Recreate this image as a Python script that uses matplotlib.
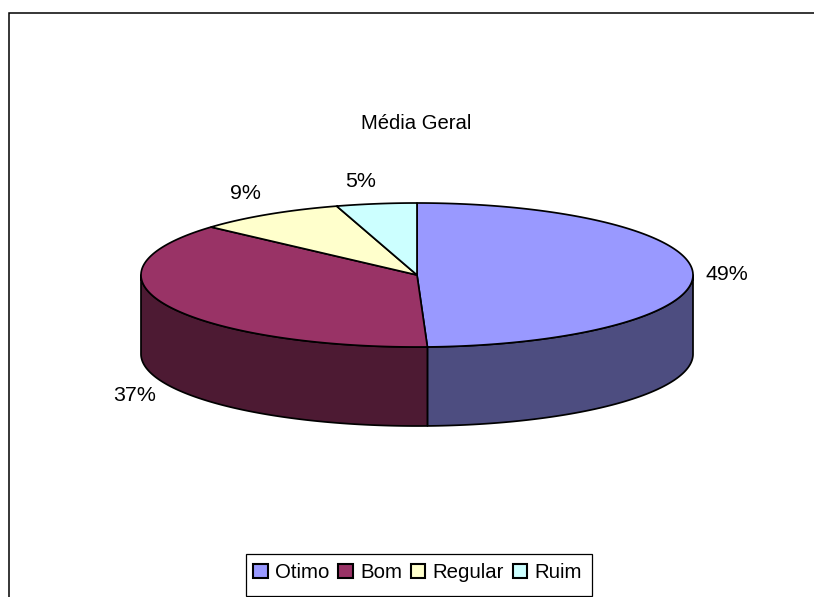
import numpy as np
import matplotlib
matplotlib.use("Agg")
import matplotlib.pyplot as plt
from matplotlib.patches import Polygon, Patch, Rectangle

plt.rcParams['font.family'] = ['Liberation Sans', 'DejaVu Sans']

# Data
title = "Média Geral"
categories = ["Otimo", "Bom", "Regular", "Ruim"]
values = [49.4, 37.2, 8.7, 4.7]
value_labels = ["49%", "37%", "9%", "5%"]
top_colors = ["#9999FF", "#993366", "#FFFFCC", "#CCFFFF"]
side_colors = ["#4D4D80", "#4D1A33", "#80805F", "#668080"]

# Layout (pixels)
W, H = 814, 597
cx, cy, rx, ry, depth = 417, 275, 276, 72, 79
label_pos = [(727, 274.5), (135, 395.5), (245.5, 193.5), (361, 181.5)]
FS = 15.4

fig = plt.figure(figsize=(W / 100, H / 100), dpi=100)
ax = fig.add_axes([0, 0, 1, 1])
ax.set_xlim(0, W)
ax.set_ylim(H, 0)
ax.axis("off")


def rim(t, dy=0.0):
    return np.column_stack([cx + rx * np.sin(t), cy - ry * np.cos(t) + dy])


fractions = np.cumsum([0] + values) / sum(values) * 2 * np.pi
LW = 1.25

# side walls (only the part facing the viewer)
for a, b, col in zip(fractions[:-1], fractions[1:], side_colors):
    lo, hi = max(a, np.pi / 2), min(b, 3 * np.pi / 2)
    if lo >= hi:
        continue
    t = np.linspace(lo, hi, 200)
    pts = np.vstack([rim(t), rim(t[::-1], depth)])
    ax.add_patch(Polygon(pts, closed=True, facecolor=col, edgecolor="black",
                         linewidth=LW, joinstyle="round"))

# top faces
for a, b, col in zip(fractions[:-1], fractions[1:], top_colors):
    t = np.linspace(a, b, 300)
    pts = np.vstack([[cx, cy], rim(t)])
    ax.add_patch(Polygon(pts, closed=True, facecolor=col, edgecolor="black",
                         linewidth=LW, joinstyle="round"))

# labels and title
for (x, y), s in zip(label_pos, value_labels):
    ax.text(x, y, s, ha="center", va="center", fontsize=FS, color="black")
ax.text(416.5, 123.5, title, ha="center", va="center", fontsize=14.6, color="black")

# chart border (left and top only are inside the crop)
ax.plot([9, 9, W], [H, 13, 13], color="black", lw=1.1, solid_joinstyle="miter",
        clip_on=False)

# legend frame and entries
ax.add_patch(Rectangle((245.5, 553.5), 346, 42.5, facecolor="white",
                       edgecolor="black", linewidth=0.9))
handles = [Patch(facecolor=c, edgecolor="black", linewidth=1.5, label=n)
           for c, n in zip(top_colors, categories)]
leg = ax.legend(handles=handles, ncol=4, loc="center",
                bbox_to_anchor=(417.5 / W, 1 - 572.5 / H),
                bbox_transform=ax.transAxes,
                frameon=False, fontsize=14.7, handlelength=0.72, handleheight=0.72,
                handletextpad=0.36, columnspacing=0.42, borderpad=0,
                borderaxespad=0)

fig.savefig("out.png", dpi=100, facecolor="white")
